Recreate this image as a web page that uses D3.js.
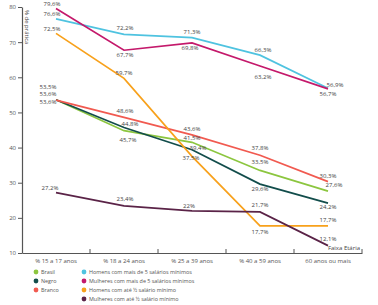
<!DOCTYPE html>
<html>
<head>
<meta charset="utf-8">
<script src="https://cdn.jsdelivr.net/npm/d3@7"></script>
<style>
  body { margin: 0; background: #fff; }
  text { font-family: "Open Sans", sans-serif; }
</style>
</head>
<body>
<div id="container"></div>
<script>
let w = 378;
let h = 305;

// data
let categories = ["% 15 a 17 anos", "% 18 a 24 anos", "% 25 a 39 anos", "% 40 a 59 anos", "60 anos ou mais"];
let brasil = [53.6, 44.8, 41.5, 33.5, 27.6];
let negro = [53.6, 45.7, 39.4, 29.6, 24.2];
let branco = [53.5, 48.6, 43.6, 37.8, 30.3];
let homensMais5 = [76.6, 72.2, 71.3, 66.3, 56.9];
let mulheresMais5 = [79.6, 67.7, 69.8, 63.2, 56.7];
let homensAteMeio = [72.5, 59.7, 37.5, 17.7, 17.7];
let mulheresAteMeio = [27.2, 23.4, 22, 21.7, 12.1];
let seriesNames = ["Brasil", "Negro", "Branco", "Homens com mais de 5 salários mínimos",
  "Mulheres com mais de 5 salários mínimos", "Homens com até ½ salário mínimo", "Mulheres com até ½ salário mínimo"];
let yTicks = [10, 20, 30, 40, 50, 60, 70, 80];

let colors = ["#8cc63f", "#124d4b", "#f15a50", "#4fc3e0", "#c4196b", "#f8a11b", "#5a2347"];

let allSeries = [brasil, negro, branco, homensMais5, mulheresMais5, homensAteMeio, mulheresAteMeio];

// label offsets [dx, dy] per point, per series (layout only)
let labelOffsets = [
  [[-8, 4], [6, -5], [0, -2], [0, -6], [6, -4]],
  [[-8, -4], [4, 14], [6, 0], [0, 7], [0, 6]],
  [[-8, -11], [1, -4], [0, -4], [0, -5], [0, -4]],
  [[-4, -3], [1, -4], [0, -4], [3, -3], [7, -1]],
  [[-4, -2], [1, 7], [-2, 7], [3, 13], [0, 7]],
  [[-4, -2], [0, -3], [-1, 4], [0, 8], [0, -4]],
  [[-6, -3], [1, -5], [-3, -3], [0, -5], [0, -5]]
];

let viz = d3.select("#container")
  .append("svg")
    .attr("width", w)
    .attr("height", h)
    .style("background-color", "white")
;

let xScale = d3.scaleBand().domain(categories).range([22, 362]);
let yScale = d3.scaleLinear().domain([10, 80]).range([253, 7]);

function xPos(i){
  return xScale(categories[i]) + xScale.bandwidth() / 2;
}

// Y AXIS
let yAxis = d3.axisLeft(yScale).tickValues(yTicks).tickSize(4).tickSizeOuter(0).tickPadding(2);
let yAxisGroup = viz.append("g").attr("class", "yaxis").attr("transform", "translate(22, 0)").call(yAxis);
yAxisGroup.select(".domain").attr("stroke", "#555").attr("stroke-width", 1.2);
yAxisGroup.selectAll(".tick line").attr("stroke", "#555");
yAxisGroup.selectAll("text").attr("font-size", 6).attr("fill", "#555");

// X AXIS
let xAxis = d3.axisBottom(xScale).tickSize(0).tickPadding(6);
let xAxisGroup = viz.append("g").attr("class", "xaxis").attr("transform", "translate(0, 253)").call(xAxis);
xAxisGroup.select(".domain").attr("stroke", "#555").attr("stroke-width", 1.2);
xAxisGroup.selectAll("text").attr("font-size", 6).attr("fill", "#555");

// boundary ticks between the bands
let edges = categories.map(function(c){ return xScale(c) + xScale.bandwidth(); });
xAxisGroup.selectAll(".edge").data(edges).enter()
  .append("line")
    .attr("x1", function(d){ return d; })
    .attr("x2", function(d){ return d; })
    .attr("y1", 0)
    .attr("y2", -4)
    .attr("stroke", "#555")
;

viz.append("text")
  .attr("x", 360)
  .attr("y", 250)
  .attr("text-anchor", "end")
  .attr("font-size", 6)
  .attr("fill", "#444")
  .text("Faixa Etária");

viz.append("text")
  .attr("transform", "translate(25, 10) rotate(90)")
  .attr("font-size", 6)
  .attr("fill", "#444")
  .text("% de prática");

// LINES
let line = d3.line()
  .x(function(d, i){ return xPos(i); })
  .y(function(d){ return yScale(d); });

let lineGroup = viz.append("g").attr("class", "lines");
allSeries.forEach(function(values, s){
  lineGroup.append("path")
    .datum(values)
    .attr("d", line)
    .attr("fill", "none")
    .attr("stroke", colors[s])
    .attr("stroke-width", 1.7)
  ;
});

// LABELS
function fmt(v){
  return String(v).replace(".", ",") + "%";
}
let labelGroup = viz.append("g").attr("class", "labels");
allSeries.forEach(function(values, s){
  labelGroup.selectAll(".lab" + s).data(values).enter()
    .append("text")
      .attr("x", function(d, i){ return xPos(i) + labelOffsets[s][i][0]; })
      .attr("y", function(d, i){ return yScale(d) + labelOffsets[s][i][1]; })
      .attr("text-anchor", "middle")
      .attr("font-family", "Liberation Serif, serif")
      .attr("font-size", 6)
      .attr("fill", "#444")
      .text(fmt)
  ;
});

// LEGEND
let legendPos = [[36, 272], [36, 281], [36, 290], [84, 272], [84, 281], [84, 290], [84, 299]];
let legend = viz.append("g").attr("class", "legend");
seriesNames.forEach(function(name, s){
  let g = legend.append("g").attr("transform", "translate(" + legendPos[s][0] + "," + legendPos[s][1] + ")");
  g.append("circle").attr("r", 2.4).attr("fill", colors[s]);
  g.append("text").attr("x", 5).attr("y", 2).attr("font-size", 5.4).attr("fill", "#555").text(name);
});
</script>
</body>
</html>
